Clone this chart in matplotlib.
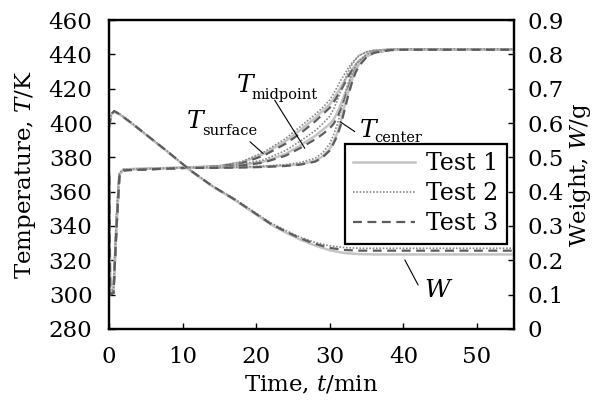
import matplotlib
matplotlib.use("Agg")
import matplotlib.pyplot as plt

plt.rcParams['font.family'] = ['DejaVu Serif']
plt.rcParams['mathtext.fontset'] = 'dejavuserif'
plt.rcParams['font.size'] = 16.5

# temperature histories (K) for the three probe positions, three tests each
t_T = [0, 0.15, 0.6, 1.0, 1.4, 2, 10, 15, 18, 21, 24, 26, 28, 29, 30, 30.5, 31,
       31.5, 32, 32.5, 33, 33.5, 34, 35, 36, 38, 40, 55]

surf_1 = [370, 301, 302, 340, 370, 373, 374, 375, 377, 382, 389.5, 396, 403, 407,
          411, 414, 417.5, 421, 424.5, 428, 431, 434, 436.5, 439.5, 441.3, 442.7, 443, 443]
surf_2 = [371, 302, 303, 345, 371, 373, 374, 375, 377.5, 383, 391, 398, 405, 409,
          413.5, 417, 421, 425, 428.5, 432, 435, 437.5, 439.5, 441.5, 442.5, 443, 443.2, 443.2]
surf_3 = [369, 300, 301, 338, 369, 372.5, 373.8, 374.8, 376.5, 381, 388, 394, 401, 405,
          409, 412, 415.5, 419, 423, 427, 430.5, 433.5, 436, 439, 441, 442.5, 442.8, 442.8]

mid_1 = [370, 301, 302, 340, 370, 373, 374, 374.5, 375.5, 377.5, 382, 387, 392.5, 396,
         399.5, 402, 406, 411, 416.5, 422, 428, 432.5, 436, 440, 441.8, 442.8, 443, 443]
mid_2 = [371, 302, 303, 345, 371, 373, 374, 374.6, 376, 378.5, 384, 389.5, 395.5, 399.5,
         404, 408, 413, 419, 425, 430, 434, 437, 439.5, 441.5, 442.5, 443, 443.2, 443.2]
mid_3 = [369, 300, 301, 338, 369, 372.5, 373.8, 374.3, 375.2, 377, 381, 385.5, 390.5, 393.5,
         397, 399.5, 403, 408, 414, 420, 426, 431, 435, 439.5, 441.5, 442.6, 442.8, 442.8]

cent_1 = [370, 301, 302, 340, 370, 373, 374, 374, 374.2, 374.6, 375.2, 376, 378, 380.5,
          385, 389, 394, 401, 410, 418, 425, 430.5, 434.5, 439, 441.3, 442.7, 443, 443]
cent_2 = [371, 302, 303, 345, 371, 373, 374, 374.1, 374.4, 374.9, 375.8, 377, 379.5, 382.5,
          388, 393, 399, 407, 415.5, 423, 429, 433.5, 436.5, 440, 441.8, 442.9, 443.2, 443.2]
cent_3 = [369, 300, 301, 338, 369, 372.5, 373.8, 373.9, 374.1, 374.4, 375, 375.8, 377.5, 380,
          384, 388, 392.5, 399, 407.5, 416, 423.5, 429.5, 433.5, 438.5, 441, 442.5, 442.8, 442.8]

# sample weight (g)
t_W = [0, 0.3, 0.7, 1.5, 3, 5, 8, 11, 14, 17, 20, 22, 24, 26, 28, 30, 32, 34, 36, 40, 55]
W_1 = [0.585, 0.625, 0.634, 0.624, 0.600, 0.566, 0.515, 0.462, 0.416, 0.377, 0.333, 0.304,
       0.281, 0.260, 0.243, 0.229, 0.221, 0.218, 0.217, 0.217, 0.217]
W_2 = [0.590, 0.628, 0.636, 0.626, 0.602, 0.568, 0.517, 0.464, 0.418, 0.380, 0.337, 0.309,
       0.287, 0.267, 0.252, 0.242, 0.237, 0.235, 0.235, 0.235, 0.235]
W_3 = [0.588, 0.626, 0.635, 0.625, 0.601, 0.567, 0.516, 0.463, 0.417, 0.378, 0.335, 0.306,
       0.284, 0.264, 0.248, 0.236, 0.230, 0.228, 0.228, 0.228, 0.228]

x_ticks = [0, 10, 20, 30, 40, 50]
T_ticks = [280, 300, 320, 340, 360, 380, 400, 420, 440, 460]
W_ticks = [0, 0.1, 0.2, 0.3, 0.4, 0.5, 0.6, 0.7, 0.8, 0.9]
W_labels = ['0', '0.1', '0.2', '0.3', '0.4', '0.5', '0.6', '0.7', '0.8', '0.9']
test_names = ['Test 1', 'Test 2', 'Test 3']

styles = [dict(color='#c4c4c4', ls='-', lw=1.8),
          dict(color='#8a8a8a', ls=(0, (1, 1)), lw=1.2),
          dict(color='#5c5c5c', ls=(0, (4, 2.5)), lw=1.6)]

fig = plt.figure(figsize=(5.96, 4.04), dpi=100)
ax = fig.add_axes([0.183, 0.186, 0.679, 0.764])
ax2 = ax.twinx()

temps = [(surf_1, surf_2, surf_3), (mid_1, mid_2, mid_3), (cent_1, cent_2, cent_3)]
for group in temps:
    for i, T in enumerate(group):
        ax.plot(t_T, T, **styles[i])

handles = []
for i, W in enumerate([W_1, W_2, W_3]):
    h, = ax2.plot(t_W, W, label=test_names[i], **styles[i])
    handles.append(h)

ax.set_xlim(0, 55)
ax.set_ylim(280, 460)
ax2.set_ylim(0, 0.9)
ax.set_xticks(x_ticks)
ax.set_yticks(T_ticks)
ax2.set_yticks(W_ticks)
ax2.set_yticklabels(W_labels)

ax.tick_params(direction='in', length=4, width=1, top=False, right=False)
ax.tick_params(axis='y', pad=12)
ax.tick_params(axis='x', pad=12)
ax2.tick_params(direction='in', length=4, width=1, pad=10)
for a in (ax, ax2):
    for s in a.spines.values():
        s.set_linewidth(1.6)

ax.set_xlabel('Time, $t$/min', labelpad=5)
ax.set_ylabel('Temperature, $T$/K', labelpad=8)
ax2.set_ylabel('Weight, $W$/g', labelpad=2)

# curve group labels: big italic symbol, small upright subscript, thin leader line
line_kw = dict(arrowstyle='-', color='black', lw=0.8, shrinkA=0, shrinkB=0)
ax.annotate('', xy=(20.95, 382.3), xytext=(19.15, 389.1), arrowprops=line_kw)
ax.annotate('', xy=(26.6, 385.3), xytext=(22.5, 413.4), arrowprops=line_kw)
ax.annotate('', xy=(31.4, 400.8), xytext=(33.4, 395.0), arrowprops=line_kw)
ax2.annotate('', xy=(40.2, 0.201), xytext=(42.0, 0.128), arrowprops=line_kw)

ax.text(10.5, 397.1, '$T$', fontsize=18, va='baseline')
ax.text(12.6, 393.0, 'surface', fontsize=10.5, va='baseline')
ax.text(17.2, 418.0, '$T$', fontsize=18, va='baseline')
ax.text(19.4, 414.0, 'midpoint', fontsize=10.5, va='baseline')
ax.text(33.9, 391.9, '$T$', fontsize=18, va='baseline')
ax.text(36.1, 389.0, 'center', fontsize=10.5, va='baseline')
ax2.text(42.8, 0.093, '$W$', fontsize=18, va='baseline')

leg = ax2.legend(handles=handles, loc='upper right', bbox_to_anchor=(0.983, 0.599),
                 borderaxespad=0, fancybox=False, framealpha=1, edgecolor='black',
                 handlelength=2.6, handletextpad=0.5, borderpad=0.35,
                 labelspacing=0.3, fontsize=17)
leg.get_frame().set_linewidth(1.6)

fig.savefig('out.png', dpi=100)
